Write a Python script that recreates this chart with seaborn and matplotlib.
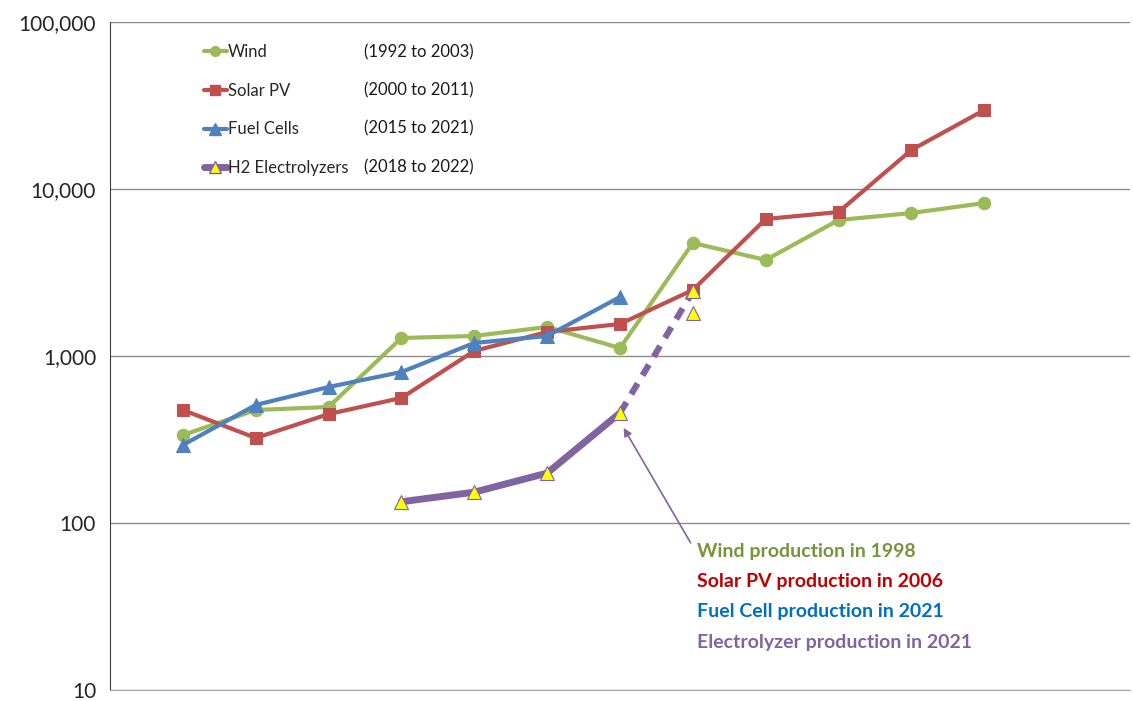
import matplotlib
matplotlib.use("Agg")
import matplotlib.pyplot as plt
import seaborn as sns
import pandas as pd
from matplotlib.lines import Line2D

# values (log scale), x = year index within each series
wind = [336, 475, 495, 1282, 1318, 1492, 1116, 4750, 3760, 6520, 7180, 8240]
solar = [475, 323, 449, 561, 1072, 1393, 1555, 2485, 6610, 7280, 17130, 29700]
fuel_cells = [293, 509, 652, 802, 1197, 1318, 2256]
h2_x = [3, 4, 5, 6]
h2 = [134, 153, 199, 456]
h2_dash_x = [6, 7]
h2_dash = [456, 2440]
h2_extra_x = [7]
h2_extra = [1810]

labels = ["Wind", "Solar PV", "Fuel Cells", "H2 Electrolyzers"]
periods = ["(1992 to 2003)", "(2000 to 2011)", "(2015 to 2021)", "(2018 to 2022)"]
notes = ["Wind production in 1998", "Solar PV production in 2006",
         "Fuel Cell production in 2021", "Electrolyzer production in 2021"]
note_colors = ["#77933C", "#C00000", "#0070C0", "#8064A2"]

green, red, blue, purple = "#9BBB59", "#C0504D", "#4F81BD", "#8064A2"

sns.set_style("white")
plt.rcParams["font.family"] = ["Lato", "DejaVu Sans"]

fig = plt.figure(figsize=(11.33, 7.01), dpi=100)
ax = fig.add_axes([110 / 1133, 11 / 701, 1020 / 1133, 668 / 701])

df_w = pd.DataFrame({"x": range(len(wind)), "y": wind})
df_s = pd.DataFrame({"x": range(len(solar)), "y": solar})
df_f = pd.DataFrame({"x": range(len(fuel_cells)), "y": fuel_cells})
df_h = pd.DataFrame({"x": h2_x, "y": h2})
df_hd = pd.DataFrame({"x": h2_dash_x, "y": h2_dash})

sns.lineplot(data=df_w, x="x", y="y", ax=ax, color=green, lw=3, marker="o",
             markersize=9, markeredgecolor=green, zorder=3)
sns.lineplot(data=df_s, x="x", y="y", ax=ax, color=red, lw=3, marker="s",
             markersize=9, markeredgecolor=red, zorder=3)
sns.lineplot(data=df_f, x="x", y="y", ax=ax, color=blue, lw=3, marker="^",
             markersize=10, markeredgecolor=blue, zorder=4)
sns.lineplot(data=df_hd, x="x", y="y", ax=ax, color=purple, lw=4.5,
             linestyle=(0, (2, 1.5)), zorder=4)
sns.lineplot(data=df_h, x="x", y="y", ax=ax, color=purple, lw=5, zorder=4)
tri = dict(ls="none", marker="^", markersize=10, markerfacecolor="#FFFF00",
           markeredgecolor=purple, markeredgewidth=0.8, zorder=5)
ax.plot(df_h["x"], df_h["y"], **tri)
ax.plot(h2_dash_x[1:], h2_dash[1:], **tri)
ax.plot(h2_extra_x, h2_extra, **tri)

ax.set_yscale("log")
ax.set_ylim(10, 100000)
ax.set_xlim(-1, 13)
ax.set_yticks([10, 100, 1000, 10000, 100000])
ax.set_yticklabels(["10", "100", "1,000", "10,000", "100,000"], fontsize=15)
ax.minorticks_off()
ax.set_xticks([])
ax.set_xlabel("")
ax.set_ylabel("")
ax.yaxis.grid(True, color="#8C8C8C", lw=1)
ax.set_axisbelow(True)
for s in ["top", "right"]:
    ax.spines[s].set_visible(False)
ax.spines["bottom"].set_color("#A6A6A6")
ax.spines["left"].set_color("#404040")
ax.tick_params(axis="y", direction="out", length=6, color="#404040", pad=4)

# legend
handles = [
    Line2D([], [], color=green, lw=3, marker="o", markersize=7),
    Line2D([], [], color=red, lw=3, marker="s", markersize=7),
    Line2D([], [], color=blue, lw=3, marker="^", markersize=8),
    Line2D([], [], color=purple, lw=5, marker="^", markersize=9,
           markerfacecolor="#FFFF00", markeredgecolor=purple),
]
ax.legend(handles, labels, loc="upper left", bbox_to_anchor=(0.077, 0.99),
          frameon=False, fontsize=12, handlelength=1.4, handletextpad=0.05,
          labelspacing=1.37)
for i, p in enumerate(periods):
    fig.text(364 / 1133, 1 - (52 + i * 38.3) / 701, p, fontsize=12,
             va="center", ha="left", color="#1a1a1a")

for i, (n, c) in enumerate(zip(notes, note_colors)):
    fig.text(697 / 1133, 1 - (551 + i * 30.5) / 701, n, color=c, fontsize=14,
             fontweight="bold", va="center", ha="left")

ax.annotate("", xy=(6.05, 371), xytext=(6.97, 76),
            arrowprops=dict(arrowstyle="-|>", color=purple, lw=1.2,
                            mutation_scale=12, shrinkA=0, shrinkB=0))

fig.savefig("out.png", dpi=100)
